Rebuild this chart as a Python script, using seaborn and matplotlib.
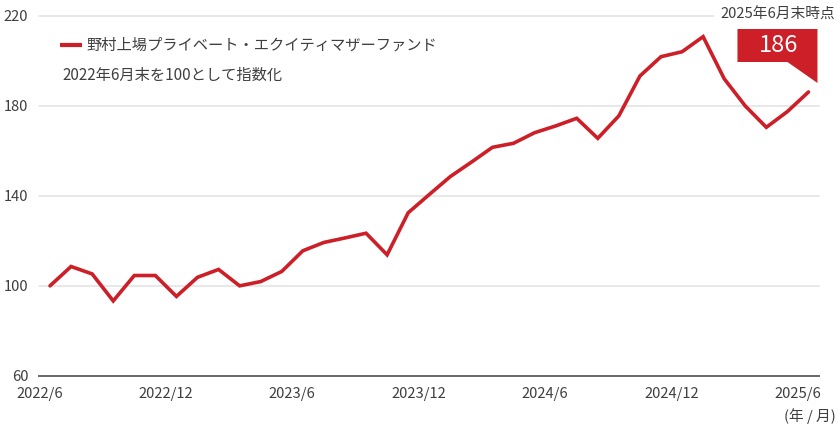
import numpy as np
import pandas as pd
import matplotlib
matplotlib.use("Agg")
import matplotlib.pyplot as plt
import matplotlib.transforms as mtransforms
from matplotlib.patches import Polygon
import seaborn as sns

# monthly index values, 2022/6 = 100
values = [100.0, 108.6, 105.3, 93.3, 104.6, 104.6, 95.3, 103.8, 107.3, 100.0,
          101.9, 106.4, 115.6, 119.3, 121.3, 123.4, 113.8, 132.5, 140.6, 148.6,
          155.0, 161.6, 163.4, 168.1, 171.1, 174.5, 165.6, 175.6, 193.3, 201.9,
          204.1, 210.8, 192.1, 180.0, 170.5, 177.5, 186.2]
tick_labels = ["2022/6", "2022/12", "2023/6", "2023/12", "2024/6", "2024/12", "2025/6"]
y_ticks = [60, 100, 140, 180, 220]
series_name = "野村上場プライベート・エクイティマザーファンド"
note = "2022年6月末を100として指数化"
callout_title = "2025年6月末時点"
callout_value = "186"

RED = "#cc1f27"
TXT = "#3f3f3f"

sns.set_style("white")
plt.rcParams["font.family"] = ["Noto Sans CJK JP", "DejaVu Sans"]

df = pd.DataFrame({"month": np.arange(len(values)) + 0.5, "index": values})

fig = plt.figure(figsize=(8.4, 4.38), dpi=100)
ax = fig.add_axes([0.047, 0.142, 0.928, 0.8215])

sns.lineplot(data=df, x="month", y="index", ax=ax, color=RED, linewidth=2.6,
             solid_joinstyle="miter", legend=False, zorder=3)

ax.set_xlim(0, 37)
ax.set_ylim(60, 220)
ax.set_xticks(np.arange(0, 37, 6))
ax.set_xticklabels(tick_labels)
ax.set_yticks(y_ticks)
for y in y_ticks[1:]:
    ax.axhline(y, color="#e6e6e6", linewidth=1.3, zorder=1, clip_on=False)

for s in ["top", "right", "left"]:
    ax.spines[s].set_visible(False)
ax.spines["bottom"].set_color("#666666")
ax.spines["bottom"].set_linewidth(1.4)
ax.tick_params(axis="x", direction="in", length=7, width=1.2, color="#666666",
               labelsize=10.6, labelcolor=TXT, pad=8)
ax.tick_params(axis="y", length=0, labelsize=10.6, labelcolor=TXT, pad=8)
ax.set_xlabel("")
ax.set_ylabel("")

# legend + note
ax.plot([0.026, 0.055], [0.92, 0.92], transform=ax.transAxes, color=RED,
        linewidth=3, solid_capstyle="butt", clip_on=False)
ax.text(0.06, 0.92, series_name, transform=ax.transAxes, fontsize=11,
        color=TXT, va="center", ha="left")
ax.text(0.029, 0.835, note, transform=ax.transAxes, fontsize=11,
        color=TXT, va="center", ha="left")

ax.text(1.021, -0.113, "(年 / 月)", transform=ax.transAxes, fontsize=10.6,
        color=TXT, va="center", ha="right")

# callout on last point
xd, yd = df["month"].iloc[-1], df["index"].iloc[-1]
trans = fig.dpi_scale_trans + mtransforms.ScaledTranslation(xd, yd, ax.transData)
verts = np.array([(-71, 30), (-71, 64), (9, 64), (9, 9), (-21, 30)]) / 100.0
ax.add_patch(Polygon(verts, closed=True, facecolor=RED, edgecolor="none",
                     transform=trans, clip_on=False, zorder=4))
ax.text(-0.30, 0.465, callout_value, transform=trans, fontsize=17,
        color="white", ha="center", va="center", zorder=5)
ax.text(-0.305, 0.775, callout_title, transform=trans, fontsize=10.6, color=TXT,
        ha="center", va="center", zorder=5,
        bbox=dict(facecolor="white", edgecolor="none", pad=5))

fig.savefig("out.png", dpi=100)
